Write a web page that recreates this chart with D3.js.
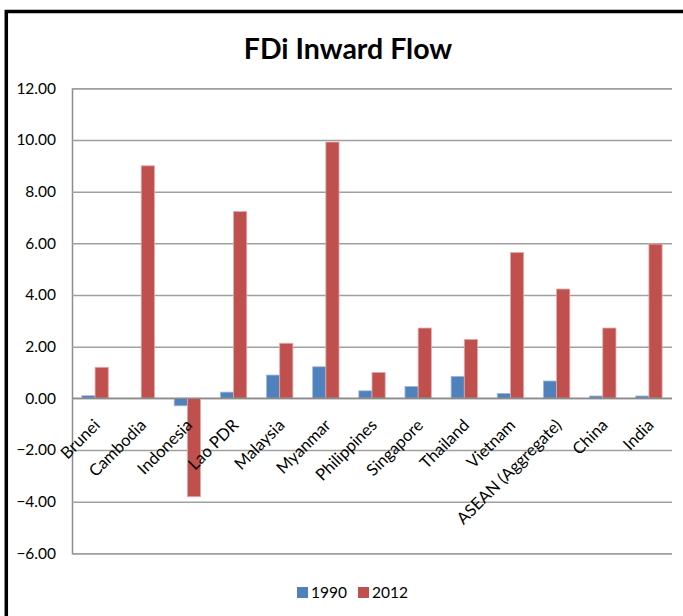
<!DOCTYPE html>
<html>
<head>
<meta charset="utf-8">
<script src="https://cdn.jsdelivr.net/npm/d3@7"></script>
<style>
  html, body { margin: 0; padding: 0; background: #fff; }
  svg { display: block; }
  text { font-family: Lato, "Open Sans", sans-serif; fill: #000; }
</style>
</head>
<body>
<svg id="chart" width="683" height="616"></svg>
<script>
// FDI inward flow, % — 1990 vs 2012
const categories = ["Brunei", "Cambodia", "Indonesia", "Lao PDR", "Malaysia", "Myanmar",
  "Philippines", "Singapore", "Thailand", "Vietnam", "ASEAN (Aggregate)", "China", "India"];
const values1990 = [0.10, 0.00, -0.29, 0.24, 0.90, 1.22, 0.29, 0.46, 0.85, 0.19, 0.67, 0.09, 0.09];
const values2012 = [1.20, 9.00, -3.81, 7.23, 2.13, 9.92, 1.00, 2.72, 2.28, 5.64, 4.23, 2.72, 5.97];
const seriesNames = ["1990", "2012"];
const seriesColors = ["#4F81BD", "#C0504D"];
const yTicks = [-6, -4, -2, 0, 2, 4, 6, 8, 10, 12];

const svg = d3.select("#chart");
const plot = { left: 72, right: 672, top: 88.3, bottom: 553.3 };

// outer frame (runs past the right and bottom edges)
svg.append("rect")
  .attr("x", 6.3).attr("y", 11.5)
  .attr("width", 700).attr("height", 640)
  .attr("fill", "none").attr("stroke", "#000").attr("stroke-width", 3.5);

svg.append("text")
  .attr("x", 348).attr("y", 59)
  .attr("text-anchor", "middle")
  .attr("font-size", 28.5).attr("font-weight", "bold")
  .text("FDi Inward Flow");

const y = d3.scaleLinear().domain([-6, 12]).range([plot.bottom, plot.top]);
const x0 = d3.scaleBand().domain(categories).range([plot.left, plot.right]).padding(0);
const x1 = d3.scaleBand().domain(seriesNames)
  .range([0, x0.bandwidth()]).paddingInner(0).paddingOuter(0.75);

// gridlines + y labels
const yAxis = d3.axisLeft(y).tickValues(yTicks)
  .tickFormat(d3.format(".2f"))
  .tickSize(-(plot.right - plot.left)).tickPadding(16);
const gy = svg.append("g").attr("transform", `translate(${plot.left},0)`).call(yAxis);
gy.select(".domain").attr("stroke", "#8c8c8c").attr("stroke-width", 1.5);
gy.selectAll(".tick line").attr("stroke", "#a0a0a0").attr("stroke-width", 1.5);
gy.selectAll(".tick text").attr("font-size", 15.5).attr("fill", "#000")
  .style("font-family", "Lato, sans-serif");

// bars
const rows = categories.map((c, i) => ({ c, v: [values1990[i], values2012[i]] }));
const groups = svg.append("g").selectAll("g").data(rows).join("g")
  .attr("transform", d => `translate(${x0(d.c)},0)`);
groups.selectAll("rect")
  .data(d => d.v.map((v, k) => ({ k, v })))
  .join("rect")
  .attr("x", d => x1(seriesNames[d.k]))
  .attr("width", x1.bandwidth())
  .attr("y", d => y(Math.max(0, d.v)))
  .attr("height", d => Math.abs(y(d.v) - y(0)))
  .attr("fill", d => seriesColors[d.k])
  .attr("stroke", d => d.k === 0 ? "#9fb9dc" : "#e3aaa8")
  .attr("stroke-width", 0.8);

// zero axis line
svg.append("line")
  .attr("x1", plot.left).attr("x2", plot.right)
  .attr("y1", y(0)).attr("y2", y(0))
  .attr("stroke", "#8c8c8c").attr("stroke-width", 1.5);

// category labels, rotated next to the zero line
svg.append("g").selectAll("text").data(categories).join("text")
  .attr("text-anchor", "end")
  .attr("font-size", 16.5)
  .attr("transform", d => {
    const cx = x0(d) + x0.bandwidth() / 2 + 6;
    return `translate(${cx},${y(0) + 28}) rotate(-45)`;
  })
  .text(d => d);

// legend
const legend = svg.append("g");
const legendX = [297, 358];
seriesNames.forEach((s, k) => {
  legend.append("rect")
    .attr("x", legendX[k]).attr("y", 587)
    .attr("width", 11).attr("height", 11)
    .attr("fill", seriesColors[k]);
  legend.append("text")
    .attr("x", legendX[k] + 14).attr("y", 598)
    .attr("font-size", 15.5)
    .text(s);
});
</script>
</body>
</html>
